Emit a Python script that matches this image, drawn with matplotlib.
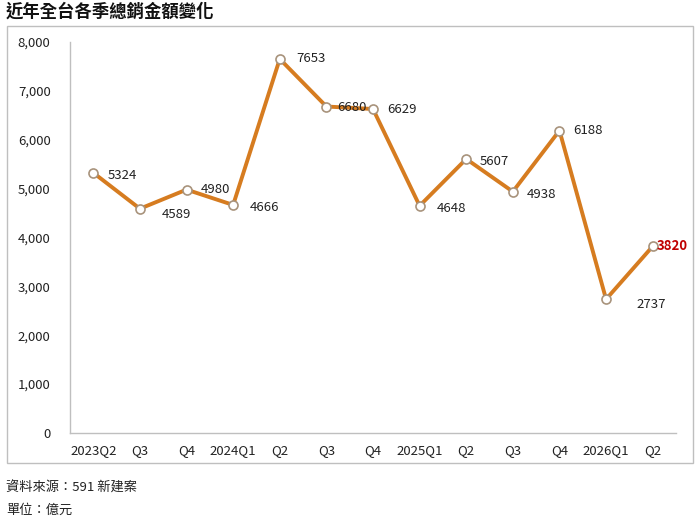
import matplotlib
matplotlib.use("Agg")
import matplotlib.pyplot as plt
from matplotlib.patches import Rectangle

plt.rcParams['font.family'] = ['Noto Sans CJK TC', 'DejaVu Sans']

quarters = ['2023Q2', 'Q3', 'Q4', '2024Q1', 'Q2', 'Q3', 'Q4',
            '2025Q1', 'Q2', 'Q3', 'Q4', '2026Q1', 'Q2']
sales = [5324, 4589, 4980, 4666, 7653, 6680, 6629,
         4648, 5607, 4938, 6188, 2737, 3820]
label_dx = [10, 16, 10, 12, 12, 8, 10, 12, 10, 10, 10, 22, 3]
label_dy = [-2, -4, 0, -2, 0, -1, 0, -2, -2, -2, 0, -4, 0]

fig = plt.figure(figsize=(7.0, 5.21), dpi=100)
ax = fig.add_axes([70 / 700, 1 - 433 / 521, 606 / 700, (433 - 42) / 521])

x = list(range(len(quarters)))
ax.plot(x, sales, color='#D67C20', lw=2.8, zorder=2,
        marker='o', ms=6.5, mfc='white', mec='#A8937C', mew=1.2)

for i, v in enumerate(sales):
    last = i == len(sales) - 1
    ax.annotate(str(v), (i, v), xytext=(label_dx[i], label_dy[i]),
                textcoords='offset points', ha='left', va='center',
                fontsize=9.5, color='#C00000' if last else '#222222',
                fontweight='bold' if last else 'normal')

ax.set_xlim(-0.5, len(quarters) - 0.5)
ax.set_ylim(0, 8000)
ax.set_yticks(range(0, 8001, 1000))
ax.set_yticklabels([f'{t:,}' for t in range(0, 8001, 1000)])
ax.set_xticks(x)
ax.set_xticklabels(quarters)
ax.tick_params(length=0, labelsize=9.5, colors='#222222')
ax.tick_params(axis='y', pad=14)
ax.tick_params(axis='x', pad=8)
for s in ['top', 'right']:
    ax.spines[s].set_visible(False)
for s in ['left', 'bottom']:
    ax.spines[s].set_color('#BFBFBF')
    ax.spines[s].set_linewidth(1.0)

# chart frame
fig.patches.append(Rectangle((7 / 700, 1 - 463 / 521), 686 / 700, 437 / 521,
                             transform=fig.transFigure, fill=False,
                             ec='#BFBFBF', lw=1.0))

fig.text(6 / 700, 1 - 12 / 521, '近年全台各季總銷金額變化', fontsize=12.5,
         fontweight='bold', va='center', ha='left', color='#111111')
fig.text(6 / 700, 1 - 488 / 521, '資料來源：591 新建案', fontsize=9.5,
         va='center', ha='left', color='#222222')
fig.text(6 / 700, 1 - 510 / 521, '單位：億元', fontsize=9.5,
         va='center', ha='left', color='#222222')

fig.savefig('out.png', dpi=100)
